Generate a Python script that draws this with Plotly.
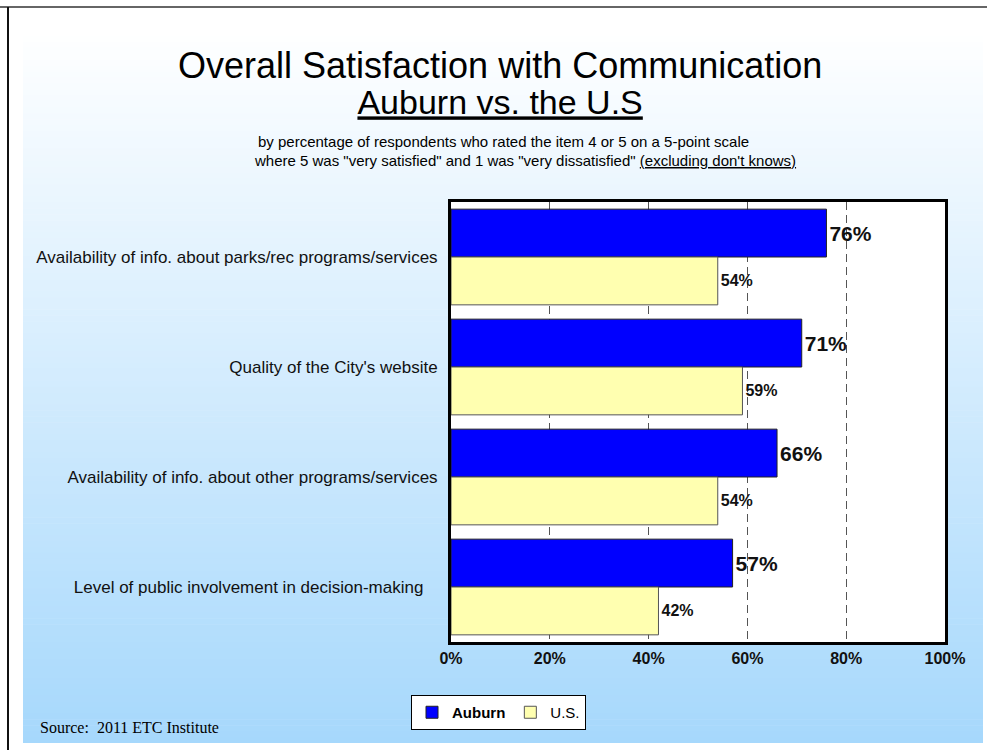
import plotly.graph_objects as go

categories = [
    "Availability of info. about parks/rec programs/services",
    "Quality of the City's website",
    "Availability of info. about other programs/services",
    "Level of public involvement in decision-making\u00a0\u00a0\u00a0",
]
auburn = [76, 71, 66, 57]
us = [54, 59, 54, 42]
x_ticks = [0, 20, 40, 60, 80, 100]
x_tick_labels = ["0%", "20%", "40%", "60%", "80%", "100%"]

W, H = 987, 750
PL, PR, PT, PB = 451, 945, 202, 642  # plot area in pixels


def px(x):
    return (x - PL) / (PR - PL)


def py(y):
    return (PB - y) / (PB - PT)


FONT = "Liberation Sans, Arial, sans-serif"

fig = go.Figure()
fig.add_trace(go.Bar(
    y=categories, x=auburn, orientation="h", name="<b>Auburn</b>",
    marker=dict(color="#0000ff", line=dict(color="#222222", width=1)),
    text=[f"{v}%" for v in auburn], textposition="outside",
    textfont=dict(family=FONT, size=21, color="#111111", weight="bold"),
    cliponaxis=False,
))
fig.add_trace(go.Bar(
    y=categories, x=us, orientation="h", name="U.S.",
    marker=dict(color="#ffffb0", line=dict(color="#555555", width=1)),
    text=[f"{v}%" for v in us], textposition="outside",
    textfont=dict(family=FONT, size=16, color="#111111", weight="bold"),
    cliponaxis=False,
))

shapes = []
# gradient background
y_top, y_bot, x_left, x_right = 30, 743, 23, 983
n = 120
c0 = (255, 255, 255)
c1 = (166, 216, 252)
for i in range(n):
    ya = y_top + (y_bot - y_top) * i / n
    yb = y_top + (y_bot - y_top) * (i + 1) / n + 0.6
    t = (i + 0.5) / n
    col = tuple(round(c0[k] + (c1[k] - c0[k]) * t) for k in range(3))
    shapes.append(dict(type="rect", xref="paper", yref="paper",
                       x0=px(x_left), x1=px(x_right), y0=py(ya), y1=py(min(yb, y_bot)),
                       fillcolor=f"rgb{col}", line=dict(width=0), layer="below"))
# white plot area
shapes.append(dict(type="rect", xref="paper", yref="paper", x0=0, x1=1, y0=0, y1=1,
                   fillcolor="white", line=dict(width=0), layer="below"))
# frame lines
shapes.append(dict(type="line", xref="paper", yref="paper", x0=px(0), x1=px(W),
                   y0=py(7), y1=py(7), line=dict(color="#666666", width=2), layer="below"))
shapes.append(dict(type="line", xref="paper", yref="paper", x0=px(8), x1=px(8),
                   y0=py(7), y1=py(H), line=dict(color="#111111", width=2), layer="below"))

title_text = (
    "<span style='font-size:36px'>Overall Satisfaction with Communication</span>"
    "<br><span style='font-size:34px'><u>Auburn vs. the U.S</u></span>"
)
annotations = [
    dict(text=title_text, x=px(500), y=py(83),
         font=dict(family=FONT, size=28, color="#000000")),
    dict(text="by percentage of respondents who rated the item 4 or 5 on a 5-point scale",
         x=px(503), y=py(142), font=dict(family=FONT, size=15, color="#000000")),
    dict(text="where 5 was \"very satisfied\" and 1 was \"very dissatisfied\" <u>(excluding don't knows)</u>",
         x=px(525), y=py(160), font=dict(family=FONT, size=15, color="#000000")),
    dict(text="Source:  2011 ETC Institute", x=px(38), y=py(727), xanchor="left",
         font=dict(family="Liberation Serif, Times New Roman, serif", size=16, color="#000000")),
]
for a in annotations:
    a.setdefault("xanchor", "center")
    a["yanchor"] = "middle"
    a["xref"] = "paper"
    a["yref"] = "paper"
    a["showarrow"] = False

fig.update_layout(
    width=W, height=H,
    margin=dict(l=PL, r=W - PR, t=PT, b=H - PB, pad=0),
    paper_bgcolor="white", plot_bgcolor="white",
    barmode="group", bargap=0.13, bargroupgap=0,
    shapes=shapes, annotations=annotations,
    showlegend=True,
    legend=dict(orientation="h", x=px(411), y=py(695), xanchor="left", yanchor="top",
                bgcolor="white", bordercolor="#000000", borderwidth=1,
                font=dict(family=FONT, size=15, color="#000000"),
                itemwidth=30, tracegroupgap=0),
    font=dict(family=FONT),
)
fig.update_xaxes(
    range=[0, 100], tickvals=x_ticks, ticktext=x_tick_labels,
    showgrid=True, gridcolor="#555555", gridwidth=1.2, griddash="8px,5px",
    zeroline=False, showline=True, linecolor="#000000", linewidth=3, mirror=True,
    ticks="", tickfont=dict(family=FONT, size=16, color="#111111", weight="bold"),
)
fig.update_yaxes(
    categoryorder="array", categoryarray=categories, autorange="reversed",
    showgrid=False, zeroline=False, showline=True, linecolor="#000000", linewidth=3,
    mirror=True, ticks="", ticklabelstandoff=7,
    tickfont=dict(family=FONT, size=17, color="#111111"),
)

fig.write_html(
    "out.html",
    config={"displayModeBar": False},
    post_script="document.body.style.margin='0';document.body.style.overflow='hidden';",
)
